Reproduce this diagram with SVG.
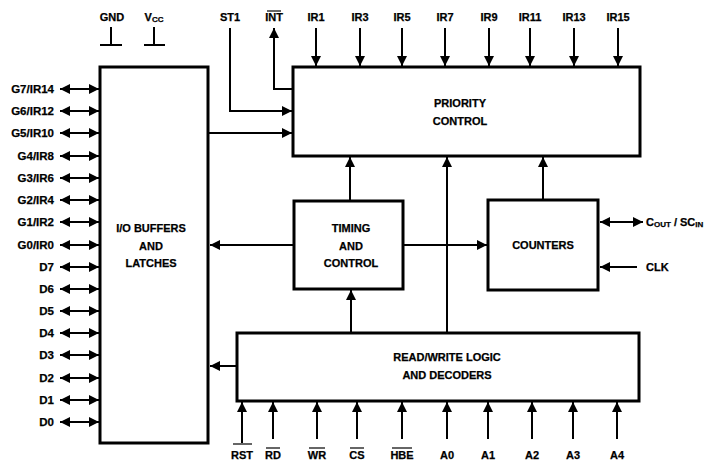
<svg xmlns="http://www.w3.org/2000/svg" width="705" height="463" viewBox="0 0 705 463">
<style>
text{font-family:"Liberation Sans",Arial,sans-serif;font-weight:bold;font-size:11px;fill:#000;stroke:#000;stroke-width:0.25}
.pin{font-size:11.5px}
.box{fill:#fff;stroke:#000;stroke-width:3}
.c{text-anchor:middle}
.r{text-anchor:end}
.ln{fill:none;stroke:#000;stroke-width:2}
.a{fill:none;stroke:#000;stroke-width:2;marker-end:url(#ah)}
.d{fill:none;stroke:#000;stroke-width:2;marker-end:url(#ah);marker-start:url(#ah)}
.ob{stroke:#000;stroke-width:1.2}
</style>
<defs>
<marker id="ah" viewBox="0 0 10 10" refX="10" refY="5" markerWidth="10" markerHeight="10" orient="auto-start-reverse" markerUnits="userSpaceOnUse"><path d="M0,0 L10,5 L0,10 z" fill="#000"/></marker>
</defs>
<rect width="705" height="463" fill="#fff"/>

<g id="connectors">
<path class="ln" d="M111,27 V45 M100,45 H122"/>
<path class="ln" d="M154,27 V45 M144,45 H165"/>
<path class="a" d="M230,28 V111 H292"/>
<path class="a" d="M293,89 H274 V28"/>
<path class="a" d="M209,133 H292"/>
<path class="a" d="M316,28 V66"/>
<path class="a" d="M360,28 V66"/>
<path class="a" d="M402,28 V66"/>
<path class="a" d="M445,28 V66"/>
<path class="a" d="M489,28 V66"/>
<path class="a" d="M530,28 V66"/>
<path class="a" d="M574,28 V66"/>
<path class="a" d="M618,28 V66"/>
<path class="a" d="M350,200 V157"/>
<path class="a" d="M543,199 V157"/>
<path class="a" d="M447,332 V157"/>
<path class="a" d="M351,332 V290"/>
<path class="a" d="M293,245 H210"/>
<path class="a" d="M404,245 H487"/>
<path class="a" d="M236,366 H210"/>
<path class="d" d="M643,222 H600"/>
<path class="a" d="M637,267 H600"/>
<path class="d" d="M60,89 H99"/>
<path class="d" d="M60,111 H99"/>
<path class="d" d="M60,133 H99"/>
<path class="d" d="M60,156 H99"/>
<path class="d" d="M60,178 H99"/>
<path class="d" d="M60,200 H99"/>
<path class="d" d="M60,222 H99"/>
<path class="d" d="M60,245 H99"/>
<path class="d" d="M60,267 H99"/>
<path class="d" d="M60,289 H99"/>
<path class="d" d="M60,311 H99"/>
<path class="d" d="M60,333 H99"/>
<path class="d" d="M60,355 H99"/>
<path class="d" d="M60,378 H99"/>
<path class="d" d="M60,400 H99"/>
<path class="d" d="M60,422 H99"/>
<path class="a" d="M242,443 V402"/>
<path class="a" d="M273,439 V402"/>
<path class="a" d="M317,439 V402"/>
<path class="a" d="M357,439 V402"/>
<path class="a" d="M402,439 V402"/>
<path class="a" d="M447,439 V402"/>
<path class="a" d="M488,439 V402"/>
<path class="a" d="M532,439 V402"/>
<path class="a" d="M573,439 V402"/>
<path class="a" d="M617,439 V402"/>
</g>

<g id="io">
<rect class="box" x="100" y="67" width="108" height="376"/>
<text class="c" x="151" y="232">I/O BUFFERS</text>
<text class="c" x="151" y="250">AND</text>
<text class="c" x="151" y="267">LATCHES</text>
</g>
<g id="priority">
<rect class="box" x="293" y="67" width="347" height="89"/>
<text class="c" x="460" y="107">PRIORITY</text>
<text class="c" x="460" y="125">CONTROL</text>
</g>
<g id="timing">
<rect class="box" x="294" y="201" width="109" height="88"/>
<text class="c" x="351" y="232">TIMING</text>
<text class="c" x="351" y="250">AND</text>
<text class="c" x="351" y="267">CONTROL</text>
</g>
<g id="counters">
<rect class="box" x="488" y="200" width="110" height="90"/>
<text class="c" x="543" y="249">COUNTERS</text>
</g>
<g id="rw">
<rect class="box" x="237" y="333" width="402" height="68"/>
<text class="c" x="447" y="361">READ/WRITE LOGIC</text>
<text class="c" x="447" y="379">AND DECODERS</text>
</g>

<g id="labels">
<text class="c" x="112" y="21">GND</text>
<text class="c" x="154" y="21">V<tspan font-size="8" dy="1">CC</tspan></text>
<text class="c" x="230" y="21">ST1</text>
<text class="c" x="274" y="21">INT</text>
<line class="ob" x1="267" y1="11" x2="281" y2="11"/>
<text class="c" x="316" y="21">IR1</text>
<text class="c" x="360" y="21">IR3</text>
<text class="c" x="402" y="21">IR5</text>
<text class="c" x="445" y="21">IR7</text>
<text class="c" x="489" y="21">IR9</text>
<text class="c" x="530" y="21">IR11</text>
<text class="c" x="574" y="21">IR13</text>
<text class="c" x="618" y="21">IR15</text>

<text class="r pin" x="54" y="93">G7/IR14</text>
<text class="r pin" x="54" y="115">G6/IR12</text>
<text class="r pin" x="54" y="137">G5/IR10</text>
<text class="r pin" x="54" y="160">G4/IR8</text>
<text class="r pin" x="54" y="182">G3/IR6</text>
<text class="r pin" x="54" y="204">G2/IR4</text>
<text class="r pin" x="54" y="226">G1/IR2</text>
<text class="r pin" x="54" y="249">G0/IR0</text>
<text class="r pin" x="54" y="271">D7</text>
<text class="r pin" x="54" y="293">D6</text>
<text class="r pin" x="54" y="315">D5</text>
<text class="r pin" x="54" y="337">D4</text>
<text class="r pin" x="54" y="359">D3</text>
<text class="r pin" x="54" y="382">D2</text>
<text class="r pin" x="54" y="404">D1</text>
<text class="r pin" x="54" y="426">D0</text>

<text x="646" y="226">C<tspan font-size="8" dy="1">OUT</tspan><tspan dy="-1"> / SC</tspan><tspan font-size="8" dy="1">IN</tspan></text>
<text x="646" y="271">CLK</text>

<text class="c" x="242" y="459">RST</text>
<line class="ob" x1="233" y1="444" x2="252" y2="444"/>
<text class="c" x="273" y="459">RD</text>
<line class="ob" x1="266" y1="448" x2="280" y2="448"/>
<text class="c" x="317" y="459">WR</text>
<line class="ob" x1="309" y1="448" x2="325" y2="448"/>
<text class="c" x="357" y="459">CS</text>
<line class="ob" x1="350" y1="448" x2="364" y2="448"/>
<text class="c" x="402" y="459">HBE</text>
<line class="ob" x1="392" y1="448" x2="412" y2="448"/>
<text class="c" x="447" y="459">A0</text>
<text class="c" x="488" y="459">A1</text>
<text class="c" x="532" y="459">A2</text>
<text class="c" x="573" y="459">A3</text>
<text class="c" x="617" y="459">A4</text>
</g>
</svg>
